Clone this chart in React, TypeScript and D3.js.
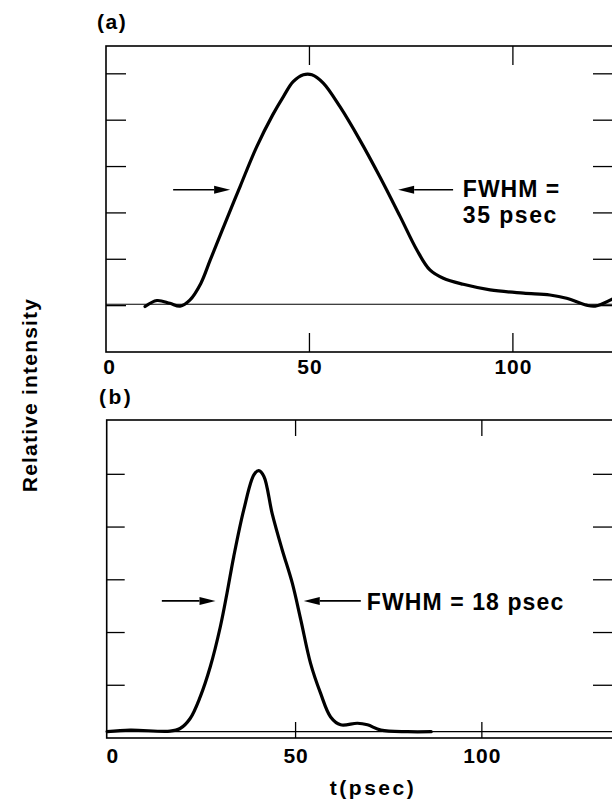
import React from "react";
import * as d3 from "d3";

// Panel (a) trace: time (psec) and relative intensity
const tA = [9.6, 12.5, 15.7, 18.2, 20.6, 23.3, 25.6, 29.0, 33.0, 37.0, 41.0, 43.6, 46.0, 48.5, 50.6, 53.4, 57.5, 62.4, 67.3, 72.3, 76.4, 79.6, 82.9, 87.8, 94.4, 102.6, 109.1, 113.2, 118.1, 120.2, 124.4];
const iA = [0.98, 1.11, 1.05, 0.99, 1.12, 1.48, 1.98, 2.72, 3.58, 4.42, 5.12, 5.51, 5.83, 5.98, 5.98, 5.8, 5.29, 4.57, 3.78, 2.92, 2.2, 1.77, 1.59, 1.46, 1.34, 1.27, 1.23, 1.16, 1.01, 0.99, 1.14];

// Panel (b) trace
const tB = [-0.6, 5.6, 16.3, 19.0, 21.7, 24.4, 27.1, 29.8, 31.6, 33.4, 36.1, 38.8, 40.1, 41.5, 43.7, 46.4, 49.1, 51.4, 54.0, 56.7, 59.4, 62.1, 66.6, 69.3, 72.9, 80.1, 86.4];
const iB = [0.12, 0.15, 0.13, 0.18, 0.37, 0.78, 1.35, 2.11, 2.75, 3.44, 4.33, 4.99, 5.07, 4.96, 4.26, 3.57, 2.94, 2.24, 1.42, 0.85, 0.4, 0.25, 0.28, 0.25, 0.15, 0.12, 0.12];

const xTicks = [0, 50, 100];
const yTicksA = [1, 2, 3, 4, 5, 6];
const yTicksB = [1, 2, 3, 4, 5];
const baselineA = 1.03;
const baselineB = 0.12;
const halfMaxA = 3.5;
const halfMaxB = 2.6;
// FWHM arrow tails/tips (psec)
const arrowsA = [[16.5, 30.5], [85.3, 71.8]];
const arrowsB = [[14.1, 28.5], [67.5, 52.2]];
const labelA = ["FWHM =", "35 psec"];
const labelB = "FWHM = 18 psec";

const FONT = "'Liberation Sans', Arial, Helvetica, sans-serif";

function Arrow({ x1, x2, y }: { x1: number; x2: number; y: number }) {
  const dir = Math.sign(x2 - x1);
  const hl = 16;
  const hw = 4;
  return (
    <g>
      <line x1={x1} y1={y} x2={x2 - dir * hl} y2={y} stroke="#000" strokeWidth={1.6} />
      <polygon points={`${x2},${y} ${x2 - dir * hl},${y - hw} ${x2 - dir * hl},${y + hw}`} fill="#000" />
    </g>
  );
}

function Frame({ x, y, left, right, top, bottom, yTicks, tickLen, tickLenX, labelY }: any) {
  return (
    <g>
      <rect x={left} y={top} width={right - left} height={bottom - top} fill="none" stroke="#000" strokeWidth={1.6} />
      {yTicks.map((v: number) => (
        <g key={"y" + v}>
          <line x1={left} x2={left + tickLen} y1={y(v)} y2={y(v)} stroke="#000" strokeWidth={1.3} />
          <line x1={593} x2={right} y1={y(v)} y2={y(v)} stroke="#000" strokeWidth={1.3} />
        </g>
      ))}
      {xTicks.map((v) => (
        <g key={"x" + v}>
          {v > 0 && (
            <>
              <line x1={x(v)} x2={x(v)} y1={top} y2={top + tickLenX} stroke="#000" strokeWidth={1.3} />
              <line x1={x(v)} x2={x(v)} y1={bottom} y2={bottom - tickLenX} stroke="#000" strokeWidth={1.3} />
            </>
          )}
          <text x={x(v) + (v === 0 ? 3 : 0) + 0.5} y={labelY} textAnchor="middle" fontFamily={FONT} fontWeight="bold" fontSize={21} letterSpacing={1}>
            {v}
          </text>
        </g>
      ))}
    </g>
  );
}

export default function App() {
  const W = 612, H = 800;
  // panel (a)
  const xA = d3.scaleLinear().domain([0, 124.6]).range([106, 613]);
  const yA = d3.scaleLinear().domain([0, 6.6]).range([352, 46]);
  // panel (b)
  const xB = d3.scaleLinear().domain([-0.7, 135.2]).range([106.7, 613]);
  const yB = d3.scaleLinear().domain([0, 6.03]).range([738, 420]);

  const lineA = d3.line<number>().x((d, i) => xA(tA[i])).y((d) => yA(d)).curve(d3.curveCatmullRom.alpha(0.5));
  const lineB = d3.line<number>().x((d, i) => xB(tB[i])).y((d) => yB(d)).curve(d3.curveCatmullRom.alpha(0.5));

  return (
    <svg width={W} height={H} style={{ position: "absolute", left: 0, top: 0, background: "#fff" }}>
      <rect width={W} height={H} fill="#fff" />
      {/* panel a */}
      <text x={97} y={29} fontFamily={FONT} fontWeight="bold" fontSize={21} letterSpacing={1.5}>(a)</text>
      <Frame x={xA} y={yA} left={106} right={613} top={46} bottom={352} yTicks={yTicksA} tickLen={20} tickLenX={19} labelY={374} />
      <line x1={106} x2={613} y1={yA(baselineA)} y2={yA(baselineA)} stroke="#000" strokeWidth={1.2} />
      <path d={lineA(iA) || ""} fill="none" stroke="#000" strokeWidth={3.2} strokeLinejoin="round" strokeLinecap="round" />
      {arrowsA.map((a, i) => (
        <Arrow key={i} x1={xA(a[0])} x2={xA(a[1])} y={yA(halfMaxA)} />
      ))}
      <text x={xA(87.7)} y={yA(3.35)} fontFamily={FONT} fontWeight="bold" fontSize={23} letterSpacing={1}>{labelA[0]}</text>
      <text x={xA(87.7)} y={yA(2.78)} fontFamily={FONT} fontWeight="bold" fontSize={23} letterSpacing={1.5}>{labelA[1]}</text>

      {/* panel b */}
      <text x={99} y={404} fontFamily={FONT} fontWeight="bold" fontSize={21} letterSpacing={2.5}>(b)</text>
      <Frame x={xB} y={yB} left={106.7} right={613} top={420} bottom={738} yTicks={yTicksB} tickLen={18} tickLenX={16} labelY={763} />
      <line x1={106.7} x2={613} y1={yB(baselineB)} y2={yB(baselineB)} stroke="#000" strokeWidth={1.2} />
      <path d={lineB(iB) || ""} fill="none" stroke="#000" strokeWidth={3.2} strokeLinejoin="round" strokeLinecap="round" />
      {arrowsB.map((a, i) => (
        <Arrow key={i} x1={xB(a[0])} x2={xB(a[1])} y={yB(halfMaxB)} />
      ))}
      <text x={xB(69.1)} y={yB(2.43)} fontFamily={FONT} fontWeight="bold" fontSize={23} letterSpacing={1.1}>{labelB}</text>
      <text x={373} y={795} textAnchor="middle" fontFamily={FONT} fontWeight="bold" fontSize={21} letterSpacing={2.5}>t(psec)</text>

      {/* shared y label */}
      <text transform="translate(36.5,395) rotate(-90)" textAnchor="middle" fontFamily={FONT} fontWeight="bold" fontSize={21} letterSpacing={1.2}>
        Relative intensity
      </text>
    </svg>
  );
}
